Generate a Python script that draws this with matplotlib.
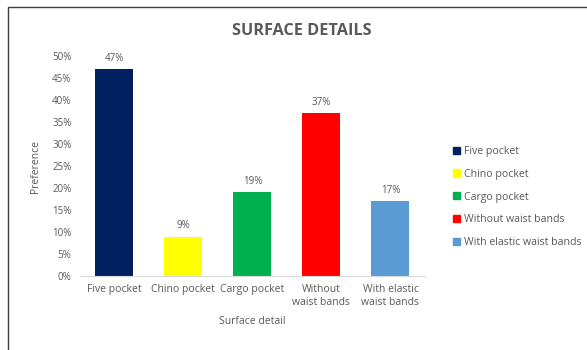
import matplotlib.pyplot as plt
from matplotlib.patches import Rectangle
from matplotlib.ticker import PercentFormatter

categories = ["Five pocket", "Chino pocket", "Cargo pocket",
              "Without waist bands", "With elastic waist bands"]
tick_labels = ["Five pocket", "Chino pocket", "Cargo pocket",
               "Without\nwaist bands", "With elastic\nwaist bands"]
values = [47, 9, 19, 37, 17]
colors = ["#002060", "#ffff00", "#00b050", "#ff0000", "#5b9bd5"]

plt.rcParams['font.family'] = ['Open Sans', 'DejaVu Sans']
grey = "#595959"

fig = plt.figure(figsize=(5.87, 3.5), dpi=100)
ax = fig.add_axes([0.136, 0.211, 0.588, 0.629])

x = range(len(values))
bars = ax.bar(x, values, width=0.55, color=colors, label=categories)
for xi, v in zip(x, values):
    ax.text(xi, v + 1.2, f"{v}%", ha="center", va="bottom", fontsize=7, color=grey)

ax.set_ylim(0, 50)
ax.set_xlim(-0.5, 4.5)
ax.set_yticks(range(0, 51, 5))
ax.yaxis.set_major_formatter(PercentFormatter(decimals=0))
ax.set_xticks(list(x))
ax.set_xticklabels(tick_labels, fontsize=7.5)
ax.tick_params(axis="both", length=0, labelsize=7, labelcolor=grey, pad=6)
ax.tick_params(axis="x", labelsize=7.5)
for s in ["top", "right", "left"]:
    ax.spines[s].set_visible(False)
ax.spines["bottom"].set_color("#d9d9d9")

ax.set_ylabel("Preference", fontsize=7.5, color=grey, labelpad=8)
ax.set_xlabel("Surface detail", fontsize=7.5, color=grey, labelpad=6)

fig.text(0.515, 0.912, "SURFACE DETAILS", ha="center", va="center",
         fontsize=11.7, fontweight="bold", color=grey)

handles = [Rectangle((0, 0), 1, 1, color=c) for c in colors]
fig.legend(handles, categories, loc="center left", bbox_to_anchor=(0.755, 0.437),
           frameon=False, fontsize=7.6, labelcolor=grey, handlelength=0.65,
           handleheight=0.65, handletextpad=0.4, labelspacing=1.12)

fig.patches.append(Rectangle((8 / 587, -0.1), 1.2, 1 - 7 / 350 + 0.1,
                             transform=fig.transFigure, fill=False,
                             edgecolor="#404040", linewidth=1))

fig.savefig("out.png", dpi=100)
